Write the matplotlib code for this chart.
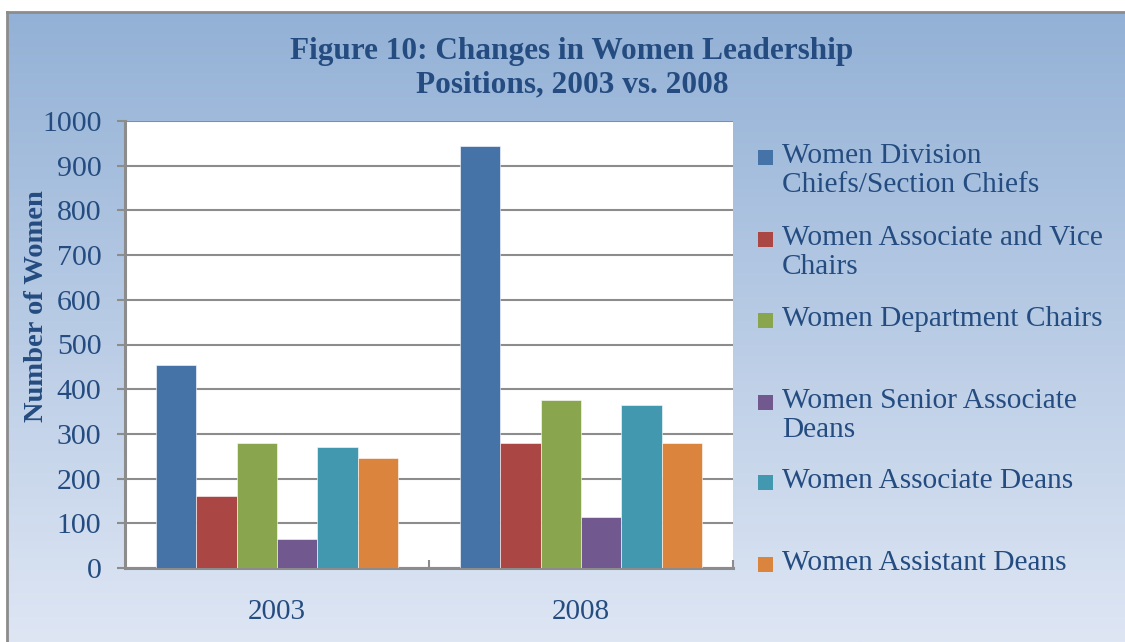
import numpy as np
import matplotlib.pyplot as plt
from matplotlib.patches import Rectangle

years = ["2003", "2008"]
series = [
    "Women Division\nChiefs/Section Chiefs",
    "Women Associate and Vice\nChairs",
    "Women Department Chairs",
    "Women Senior Associate\nDeans",
    "Women Associate Deans",
    "Women Assistant Deans",
]
values = [
    [455, 945],
    [160, 280],
    [280, 375],
    [65, 115],
    [270, 365],
    [245, 280],
]
colors = ["#4572A7", "#AA4643", "#89A54E", "#71588F", "#4198AF", "#DB843D"]
yticks = [0, 100, 200, 300, 400, 500, 600, 700, 800, 900, 1000]

txt = "#244C80"
plt.rcParams["font.family"] = ["Liberation Serif", "DejaVu Serif"]

fig = plt.figure(figsize=(11.25, 6.42), dpi=100)

# gradient background with grey frame on top / left
bg = fig.add_axes([7 / 1125, 0, 1 - 7 / 1125, 1 - 12 / 642], zorder=-10)
grad = np.linspace(0, 1, 256).reshape(-1, 1)
top = np.array([0x93, 0xB1, 0xD6]) / 255
bot = np.array([0xDE, 0xE6, 0xF4]) / 255
img = top + (bot - top) * grad[:, :, None]
bg.imshow(img, aspect="auto", extent=[0, 1, 0, 1])
bg.set_xticks([])
bg.set_yticks([])
for s in ["right", "bottom"]:
    bg.spines[s].set_visible(False)
bg.spines["left"].set_color("#8C8C8C")
bg.spines["top"].set_color("#8C8C8C")
bg.spines["left"].set_linewidth(2)
bg.spines["top"].set_linewidth(2)

ax = fig.add_axes([125 / 1125, 1 - 568 / 642, 608 / 1125, 447 / 642])
ax.set_facecolor("white")

x = np.arange(len(years))
w = 0.1325
for i, (name, vals) in enumerate(zip(series, values)):
    ax.bar(x + (i - 2.5) * w, vals, width=w, color=colors[i],
           edgecolor="white", linewidth=0.4, zorder=3)

ax.set_xlim(-0.5, 1.5)
ax.set_ylim(0, 1000)
ax.set_yticks(yticks)
ax.set_xticks(x)
ax.set_xticklabels(years)
ax.set_xticks([0.5, 1.5], minor=True)
ax.grid(axis="y", color="#8C8C8C", linewidth=1.5, zorder=1)
ax.tick_params(axis="y", direction="out", length=6, width=1.5, color="#8C8C8C",
               labelsize=21.5, labelcolor=txt, pad=11)
ax.tick_params(axis="x", which="major", length=0, labelsize=21, labelcolor=txt, pad=22)
ax.tick_params(axis="x", which="minor", direction="in", length=6, width=1.5, color="#8C8C8C")
for s in ["top", "right"]:
    ax.spines[s].set_visible(False)
for s in ["left", "bottom"]:
    ax.spines[s].set_color("#8C8C8C")
    ax.spines[s].set_linewidth(2.2)

fig.text(37 / 1125, 1 - 306 / 642, "Number of Women", rotation=90, ha="center", va="center",
         fontsize=20.5, fontweight="bold", color=txt)

fig.text(572 / 1125, 1 - 68 / 642, "Figure 10: Changes in Women Leadership\nPositions, 2003 vs. 2008",
         ha="center", va="center", fontsize=22.5, fontweight="bold", color=txt, linespacing=1.2)

# legend
first_line = [157, 239, 320, 402, 482, 564]
for name, c, yy in zip(series, colors, first_line):
    fig.patches.append(Rectangle((758 / 1125, 1 - (yy + 7.5) / 642), 15 / 1125, 15 / 642,
                                 transform=fig.transFigure, facecolor=c, edgecolor="none"))
    fig.text(782 / 1125, 1 - (yy - 14) / 642, name, ha="left", va="top",
             fontsize=21.2, color=txt, linespacing=1.17)

fig.savefig("out.png", dpi=100)
